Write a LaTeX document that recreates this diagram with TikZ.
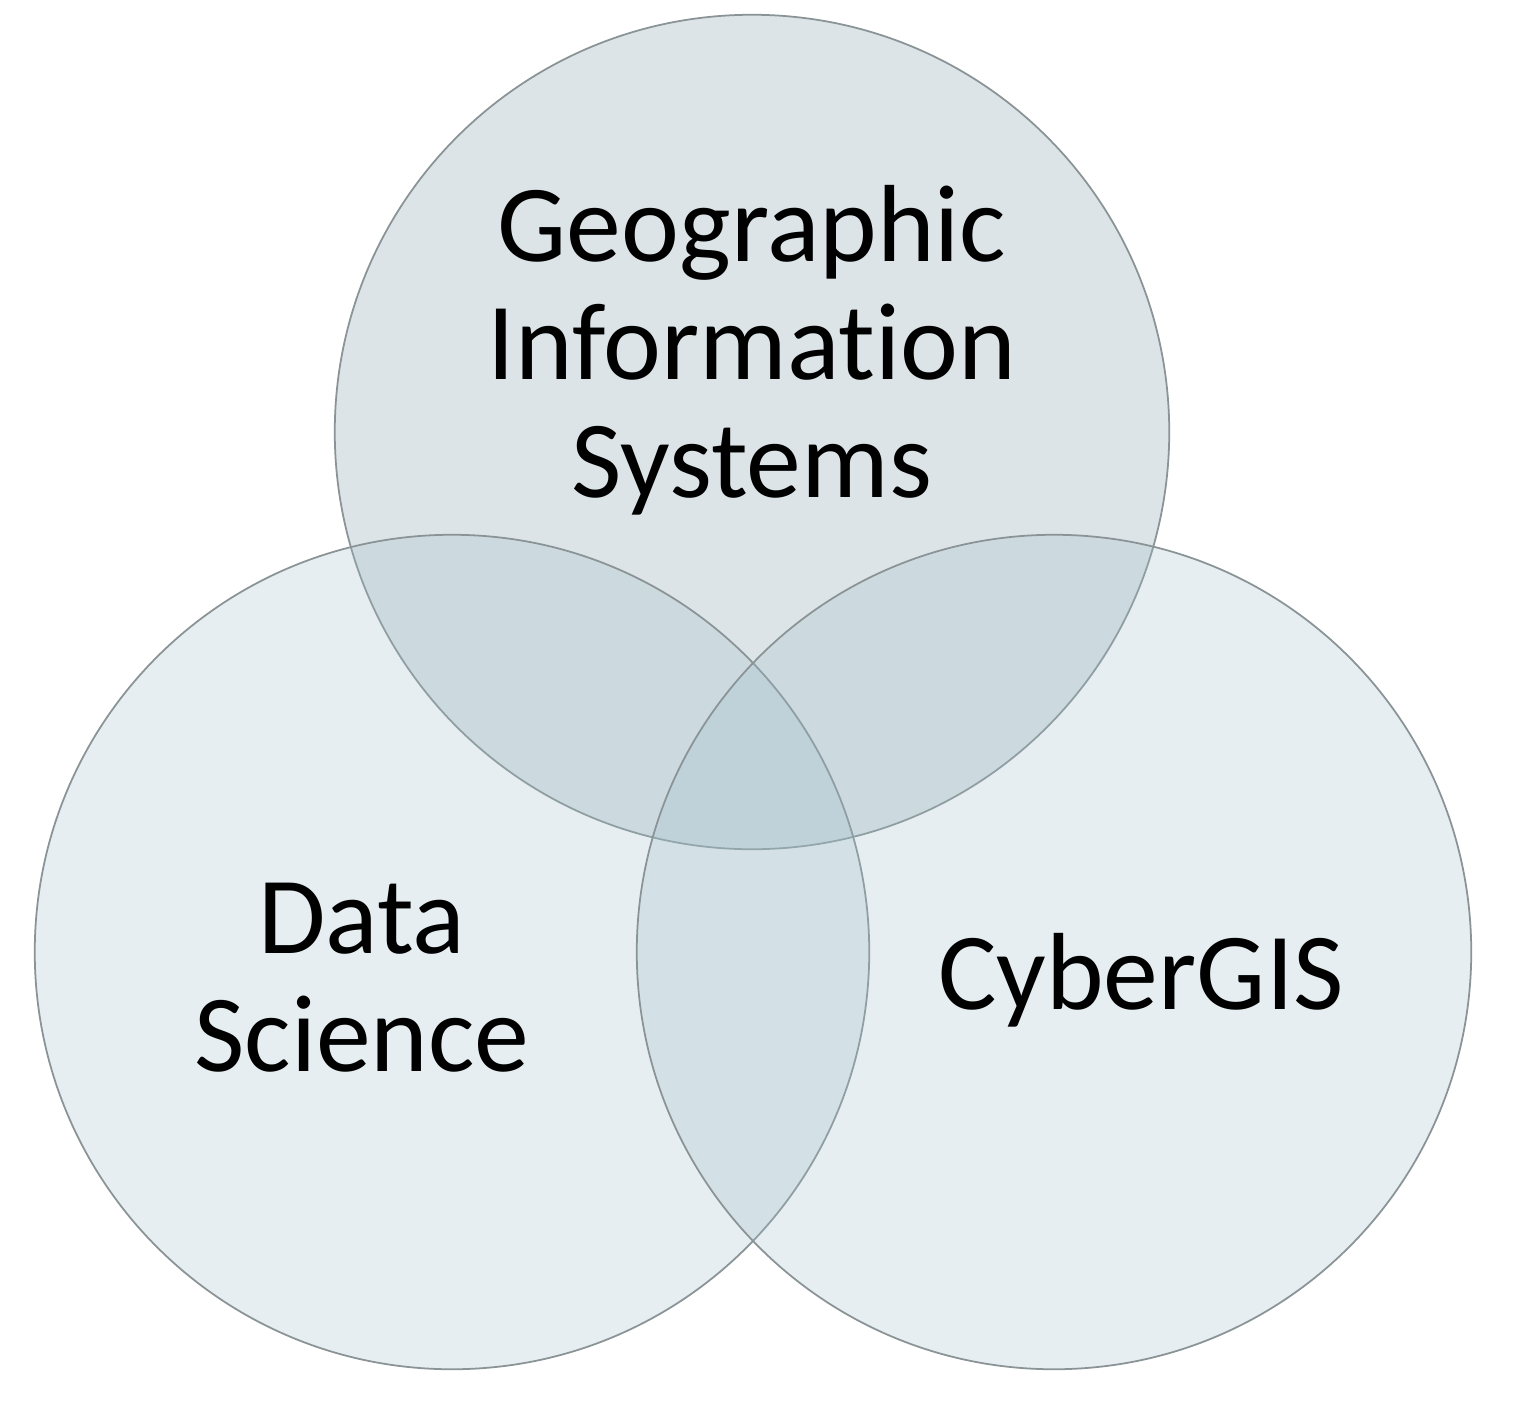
\documentclass[tikz,border=0pt]{standalone}
\usepackage{fontspec}
\setmainfont[Ligatures=NoCommon]{Carlito}
\definecolor{vennblue}{HTML}{9FBEC9}
\definecolor{venngrey}{HTML}{7897A3}
\definecolor{vennline}{HTML}{8A9396}
\tikzset{
  venn/.style={circle, draw=vennline, line width=0.5pt, fill=#1, fill opacity=0.26,
    draw opacity=1, minimum size=8.34cm, inner sep=0pt},
  vennlabel/.style={align=center, inner sep=0pt, text=black,
    font=\fontsize{31.2pt}{33.5pt}\selectfont}
}
\begin{document}
\begin{tikzpicture}[x=0.01cm, y=-0.01cm]
			%%%%% START %%%%%
			\useasboundingbox[fill=white] (0, 0) rectangle (1534, 1424);
			
			\node[venn=venngrey] (gis) at (752, 432) {};
			\node[venn=vennblue] (ds) at (452, 952) {};
			\node[venn=vennblue] (cgis) at (1054, 952) {};
			
			\node[vennlabel] (gislabel) at (752, 350) {Geographic\\Information\\Systems};
			\node[vennlabel] (dslabel) at (362, 978) {Data\\Science};
			\node[vennlabel] (cgislabel) at (1141, 980) {CyberGIS};
			%%%%% END %%%%%
\end{tikzpicture}
\end{document}
